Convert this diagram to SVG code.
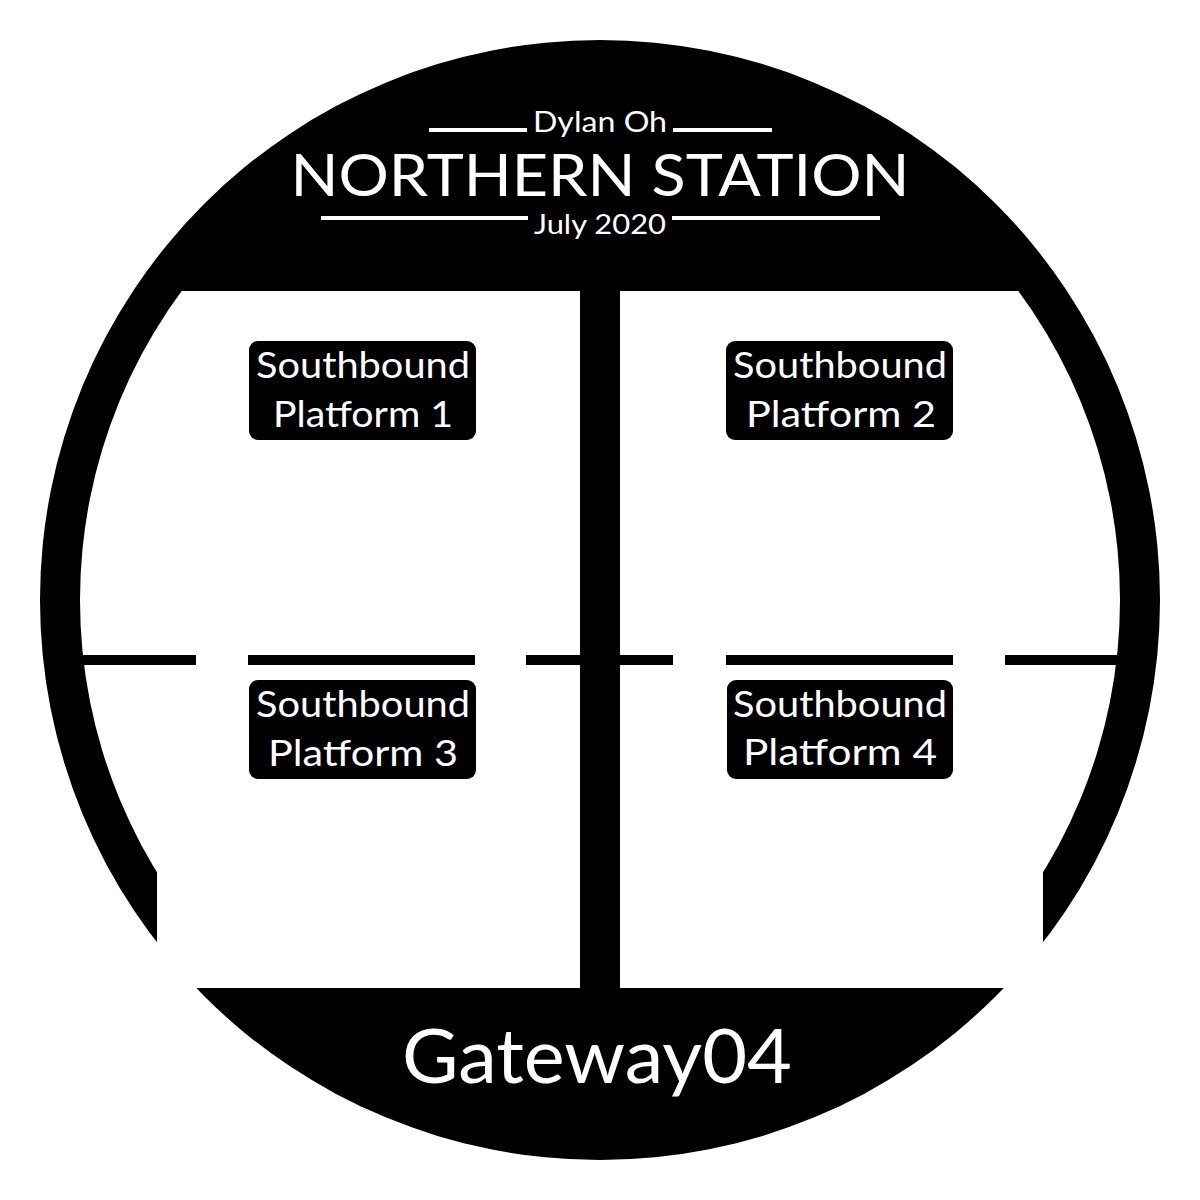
<svg xmlns="http://www.w3.org/2000/svg" width="1200" height="1200" viewBox="0 0 1200 1200">
  <style>
    .w { fill: #ffffff; }
    .k { fill: #000000; }
    .t { font-family: Lato, "Noto Sans", "DejaVu Sans", sans-serif; fill: #ffffff; text-anchor: middle; }
    .lbl { font-size: 36px; }
    .box { fill: #000000; }
  </style>
  <defs>
    <clipPath id="band">
      <rect x="0" y="291" width="1200" height="697"/>
    </clipPath>
  </defs>
  <rect x="0" y="0" width="1200" height="1200" class="w"/>
  <g id="frame">
    <circle cx="600" cy="600" r="560" class="k"/>
    <circle cx="600" cy="600" r="520" class="w" clip-path="url(#band)"/>
    <rect x="157" y="600" width="886" height="388" class="w"/>
  </g>
  <g id="connectors">
    <rect x="580" y="291" width="40" height="697" class="k"/>
    <rect x="70" y="655" width="126" height="10" class="k"/>
    <rect x="248" y="655" width="227" height="10" class="k"/>
    <rect x="526" y="655" width="147" height="10" class="k"/>
    <rect x="726" y="655" width="227" height="10" class="k"/>
    <rect x="1005" y="655" width="125" height="10" class="k"/>
  </g>
  <g id="title">
    <rect x="429" y="128" width="98" height="4" class="w"/>
    <rect x="673" y="128" width="99" height="4" class="w"/>
    <text class="t" x="600" y="132" font-size="28" textLength="134" lengthAdjust="spacingAndGlyphs">Dylan Oh</text>
    <text class="t" x="600" y="196" font-size="58" textLength="619" lengthAdjust="spacingAndGlyphs">NORTHERN STATION</text>
    <rect x="321" y="216" width="207" height="4" class="w"/>
    <rect x="672" y="216" width="208" height="4" class="w"/>
    <text class="t" x="600" y="234" font-size="26" textLength="132" lengthAdjust="spacingAndGlyphs">July 2020</text>
  </g>
  <g id="platform1">
    <rect x="249" y="341" width="227" height="99" rx="9" class="box"/>
    <text class="t lbl" x="363" y="378" textLength="214" lengthAdjust="spacingAndGlyphs">Southbound</text>
    <text class="t lbl" x="363" y="427" textLength="180" lengthAdjust="spacingAndGlyphs">Platform 1</text>
  </g>
  <g id="platform2">
    <rect x="726" y="341" width="227" height="99" rx="9" class="box"/>
    <text class="t lbl" x="840" y="378" textLength="214" lengthAdjust="spacingAndGlyphs">Southbound</text>
    <text class="t lbl" x="841" y="427" textLength="190" lengthAdjust="spacingAndGlyphs">Platform 2</text>
  </g>
  <g id="platform3">
    <rect x="249" y="680" width="227" height="99" rx="9" class="box"/>
    <text class="t lbl" x="363" y="717" textLength="214" lengthAdjust="spacingAndGlyphs">Southbound</text>
    <text class="t lbl" x="363" y="766" textLength="190" lengthAdjust="spacingAndGlyphs">Platform 3</text>
  </g>
  <g id="platform4">
    <rect x="727" y="680" width="226" height="99" rx="9" class="box"/>
    <text class="t lbl" x="840" y="717" textLength="214" lengthAdjust="spacingAndGlyphs">Southbound</text>
    <text class="t lbl" x="840" y="765" textLength="194" lengthAdjust="spacingAndGlyphs">Platform 4</text>
  </g>
  <g id="gateway">
    <text class="t" x="597" y="1083" font-size="75" textLength="390" lengthAdjust="spacingAndGlyphs">Gateway04</text>
  </g>
</svg>
